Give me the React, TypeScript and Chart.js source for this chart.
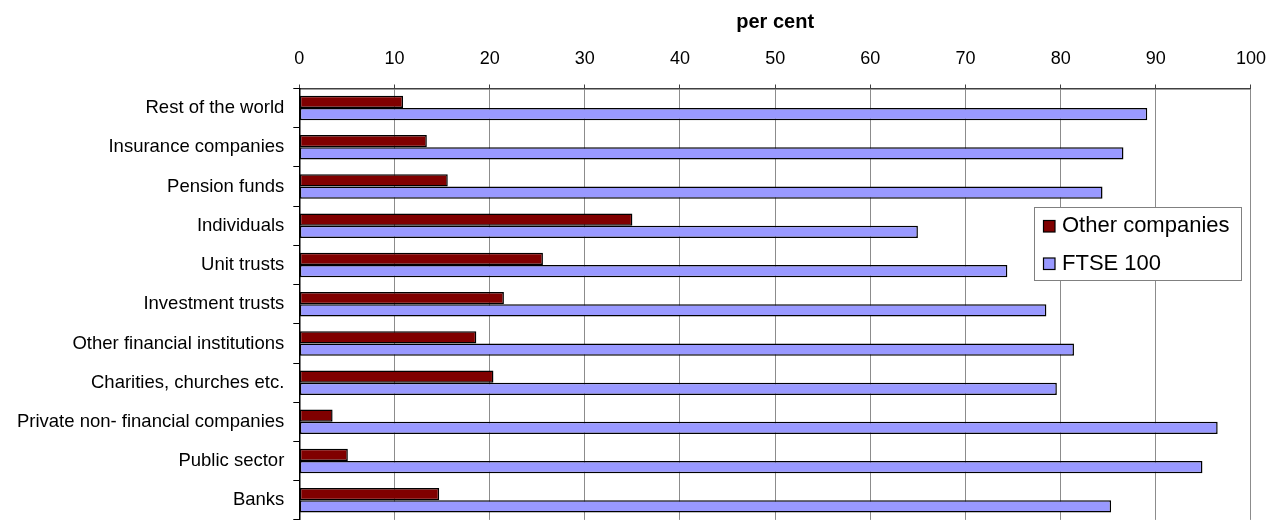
import React, { useEffect, useRef } from "react";
import { Chart, registerables } from "chart.js";

Chart.register(...registerables);

const categories = [
  "Rest of the world",
  "Insurance companies",
  "Pension funds",
  "Individuals",
  "Unit trusts",
  "Investment trusts",
  "Other financial institutions",
  "Charities, churches etc.",
  "Private non- financial companies",
  "Public sector",
  "Banks",
];

const otherCompanies = [10.9, 13.4, 15.6, 35.0, 25.6, 21.5, 18.6, 20.4, 3.5, 5.1, 14.7];
const ftse100 = [89.1, 86.6, 84.4, 65.0, 74.4, 78.5, 81.4, 79.6, 96.5, 94.9, 85.3];

const seriesNames = ["Other companies", "FTSE 100"];
const seriesColors = ["#800000", "#9999FF"];
const axisTitle = "per cent";

const FONT = "'Liberation Sans', Arial, sans-serif";

const boxLegend = {
  id: "boxLegend",
  afterDraw(chart: any) {
    const ctx = chart.ctx;
    const x0 = 1034.5, y0 = 207.5, w = 207, h = 73;
    ctx.save();
    ctx.fillStyle = "#ffffff";
    ctx.fillRect(x0, y0, w, h);
    ctx.strokeStyle = "#808080";
    ctx.lineWidth = 1;
    ctx.strokeRect(x0, y0, w, h);
    const rows = [226, 263.5];
    chart.data.datasets.forEach((ds: any, i: number) => {
      const cy = rows[i];
      ctx.fillStyle = ds.backgroundColor;
      ctx.fillRect(1043.5, cy - 5.5, 11.5, 11.5);
      ctx.strokeStyle = "#000";
      ctx.lineWidth = 1.2;
      ctx.strokeRect(1043.5, cy - 5.5, 11.5, 11.5);
      ctx.fillStyle = "#000";
      ctx.font = `22px ${FONT}`;
      ctx.textBaseline = "middle";
      ctx.textAlign = "left";
      ctx.fillText(ds.label, 1062, cy);
    });
    ctx.restore();
  },
};

export default function App() {
  const ref = useRef<HTMLCanvasElement>(null);
  useEffect(() => {
    if (!ref.current) return;
    const chart = new Chart(ref.current, {
      type: "bar",
      data: {
        labels: categories,
        datasets: [
          {
            label: seriesNames[0],
            data: otherCompanies,
            backgroundColor: seriesColors[0],
            borderColor: "#000",
            borderWidth: 1.5,
            borderSkipped: false,
            categoryPercentage: 0.625,
            barPercentage: 1,
          },
          {
            label: seriesNames[1],
            data: ftse100,
            backgroundColor: seriesColors[1],
            borderColor: "#000",
            borderWidth: 1.5,
            borderSkipped: false,
            categoryPercentage: 0.625,
            barPercentage: 1,
          },
        ],
      },
      options: {
        indexAxis: "y",
        responsive: false,
        animation: false,
        layout: { padding: { top: 0, right: 27, bottom: 11.5, left: 0 } },
        plugins: {
          legend: { display: false },
          tooltip: { enabled: false },
        },
        scales: {
          x: {
            position: "top",
            min: 0,
            max: 100,
            ticks: {
              stepSize: 10,
              color: "#000",
              font: { family: FONT, size: 18 },
              padding: 15,
            },
            grid: {
              color: "#8c8c8c",
              lineWidth: 1,
              tickColor: "#404040",
              tickLength: 4,
            },
            border: { color: "#404040", width: 1.5 },
            title: {
              display: true,
              text: axisTitle,
              color: "#000",
              font: { family: FONT, size: 20, weight: "bold" },
              padding: { top: 10, bottom: 0 },
            },
            afterFit: (scale: any) => {
              scale.height = 88.5;
            },
          },
          y: {
            ticks: {
              color: "#000",
              font: { family: FONT, size: 18.5 },
              padding: 9,
            },
            grid: {
              drawOnChartArea: false,
              drawTicks: true,
              tickLength: 6,
              tickColor: "#000",
              color: "#000",
              offset: true,
            },
            border: { color: "#000", width: 1.5 },
            afterFit: (scale: any) => {
              scale.width = 299.3;
            },
          },
        },
      },
      plugins: [boxLegend],
    } as any);
    return () => chart.destroy();
  }, []);

  return (
    <div
      style={{
        position: "fixed",
        left: 0,
        top: 0,
        width: 1281,
        height: 527,
        overflow: "hidden",
        background: "#fff",
      }}
    >
      <canvas ref={ref} width={1281} height={540} style={{ display: "block" }} />
    </div>
  );
}
